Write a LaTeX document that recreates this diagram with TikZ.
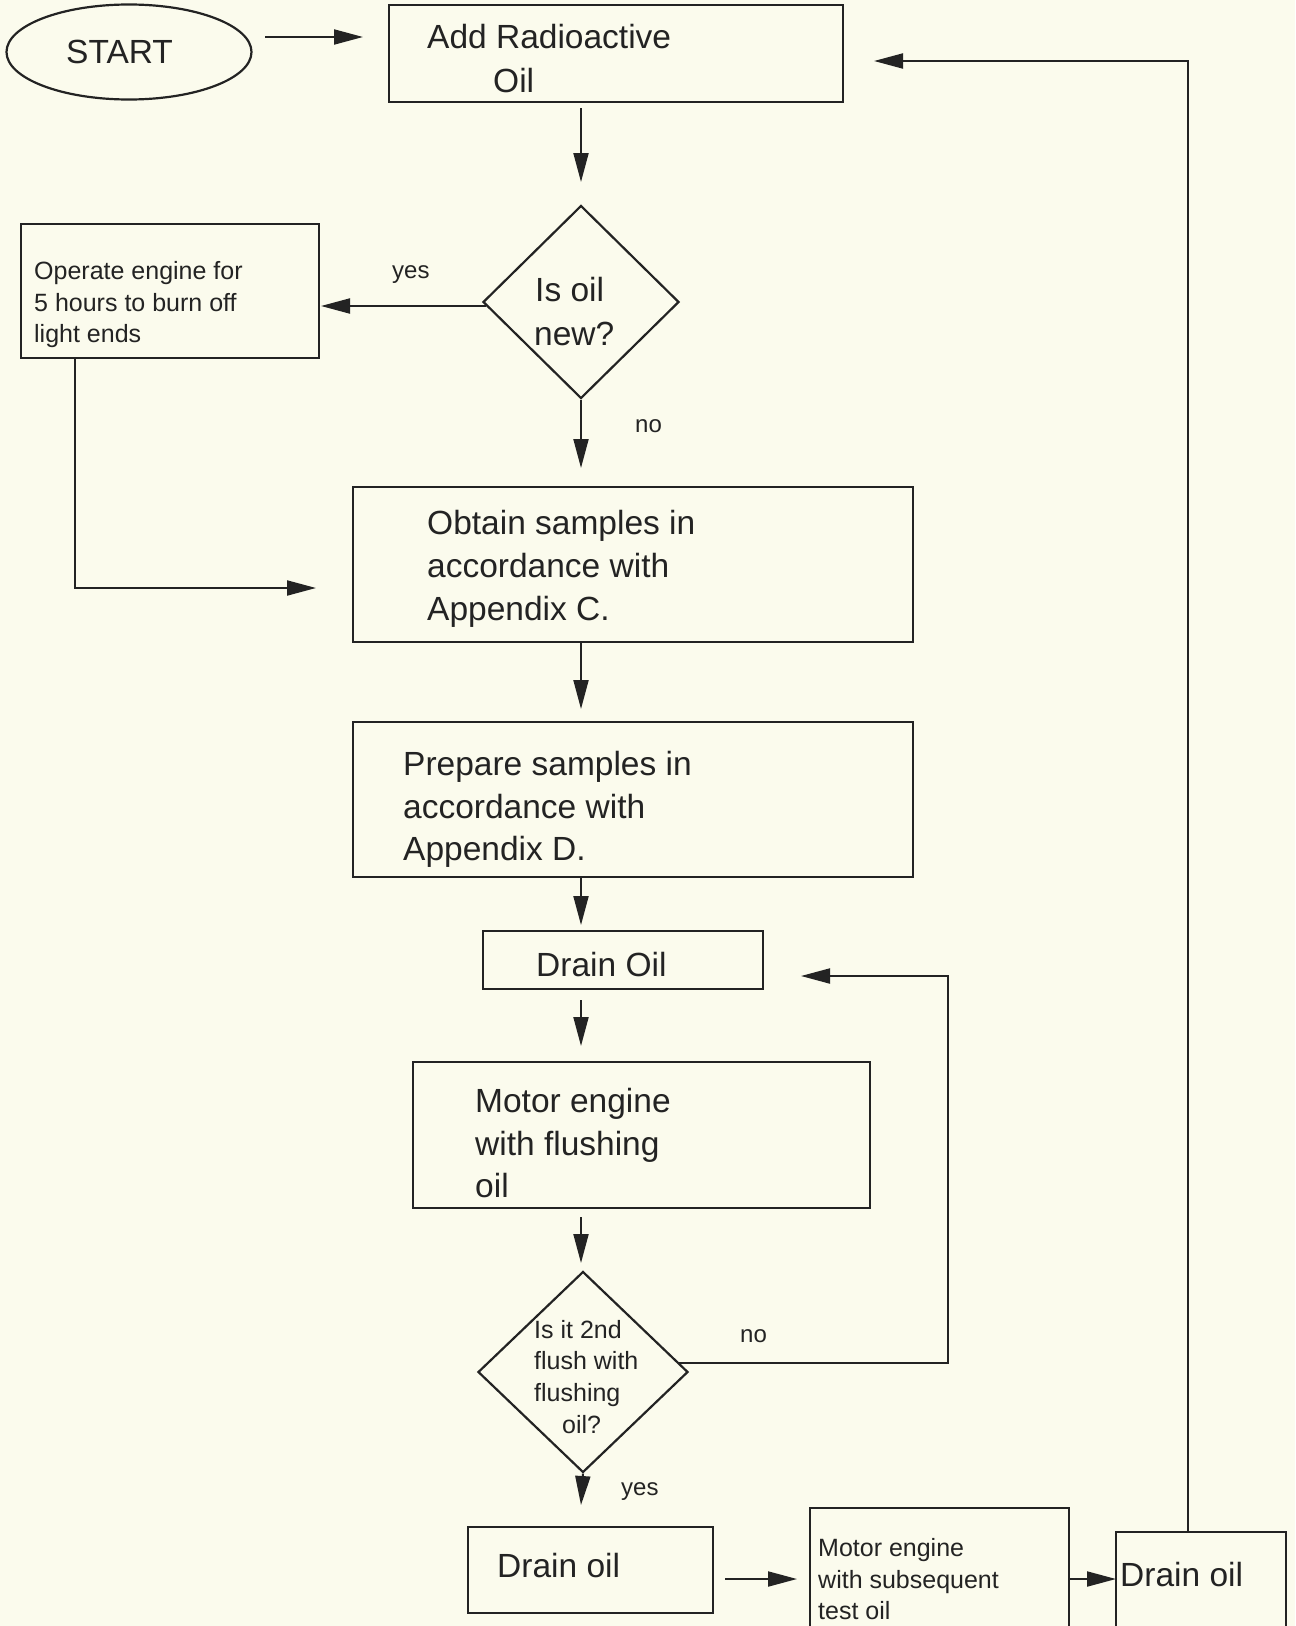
\documentclass[tikz,border=0pt]{standalone}
\usepackage{fontspec}
\setmainfont{Liberation Sans}
\usetikzlibrary{shapes.geometric,arrows.meta}
\definecolor{paper}{RGB}{251,251,237}
\definecolor{ink}{RGB}{35,35,35}
\newcommand\bigtxt{\fontsize{33.5bp}{43bp}\selectfont}
\newcommand\smalltxt{\fontsize{25bp}{31.5bp}\selectfont}
\newcommand\labtxt{\fontsize{24bp}{30bp}\selectfont}
\tikzset{
  box/.style={draw=ink, line width=2.2bp, rectangle, inner sep=0pt},
  dia/.style={draw=ink, line width=2.2bp, diamond, inner sep=0pt},
  big/.style={anchor=base west, inner sep=0pt, text=ink, font=\bigtxt},
  small/.style={anchor=base west, inner sep=0pt, text=ink, font=\smalltxt},
  lab/.style={anchor=base west, inner sep=0pt, text=ink, font=\labtxt},
  arr/.style={draw=ink, line width=2bp, -{Triangle[length=29bp,width=15bp]}},
  ln/.style={draw=ink, line width=2bp},
}
\begin{document}
\begin{tikzpicture}[x=1bp,y=-1bp]
\useasboundingbox (0,0) rectangle (1295,1626);
\fill[paper] (0,0) rectangle (1295,1626);
\clip (0,0) rectangle (1295,1626);

% shapes
\node[draw=ink, line width=2.2bp, ellipse, minimum width=245bp, minimum height=95bp, inner sep=0pt] (start) at (129,52) {};
\node[box, minimum width=454bp, minimum height=97bp] (add) at (616,53.5) {};
\node[dia, minimum width=196bp, minimum height=193bp] (d1) at (581,302) {};
\node[box, minimum width=298bp, minimum height=134bp] (operate) at (170,291) {};
\node[box, minimum width=560bp, minimum height=155bp] (obtain) at (633,564.5) {};
\node[box, minimum width=560bp, minimum height=155bp] (prepare) at (633,799.5) {};
\node[box, minimum width=280bp, minimum height=58bp] (drain1) at (623,960) {};
\node[box, minimum width=457bp, minimum height=146bp] (motor1) at (641.5,1135) {};
\node[dia, minimum width=210bp, minimum height=201bp] (d2) at (583,1372) {};
\node[box, minimum width=245bp, minimum height=86bp] (drain2) at (590.5,1570) {};
\node[box, minimum width=259bp, minimum height=132bp] (motor2) at (939.5,1574) {};
\node[box, minimum width=170bp, minimum height=108bp] (drain3) at (1201,1586) {};

% texts
\node[big] (tstart) at (66,64) {START};
\node[big] (tadd1) at (427,49) {Add Radioactive};
\node[big] (tadd2) at (493,92) {Oil};
\node[big] (td1a) at (535,301) {Is oil};
\node[big] (td1b) at (534,345) {new?};
\node[lab] (yes1) at (392,278) {yes};
\node[small] (top1) at (34,279) {Operate engine for};
\node[small] (top2) at (34,311) {5 hours to burn off};
\node[small] (top3) at (34,342) {light ends};
\node[lab] (no1) at (635,432) {no};
\node[big] (tob1) at (427,534) {Obtain samples in};
\node[big] (tob2) at (427,577) {accordance with};
\node[big] (tob3) at (427,620) {Appendix C.};
\node[big] (tpr1) at (403,775) {Prepare samples in};
\node[big] (tpr2) at (403,818) {accordance with};
\node[big] (tpr3) at (403,860) {Appendix D.};
\node[big] (tdr1) at (536,976) {Drain Oil};
\node[big] (tmo1) at (475,1112) {Motor engine};
\node[big] (tmo2) at (475,1155) {with flushing};
\node[big] (tmo3) at (475,1197) {oil};
\node[small] (td2a) at (534,1338) {Is it 2nd};
\node[small] (td2b) at (534,1369) {flush with};
\node[small] (td2c) at (534,1401) {flushing};
\node[small] (td2d) at (562,1433) {oil?};
\node[lab] (no2) at (740,1342) {no};
\node[lab] (yes2) at (621,1495) {yes};
\node[big] (tdr2) at (497,1577) {Drain oil};
\node[small] (tmo4) at (818,1556) {Motor engine};
\node[small] (tmo5) at (818,1588) {with subsequent};
\node[small] (tmo6) at (818,1619) {test oil};
\node[big] (tdr3) at (1120,1586) {Drain oil};

% connector end points
\coordinate (a1s) at (265,37);   \coordinate (a1e) at (363,37);
\coordinate (a2s) at (581,108);  \coordinate (a2e) at (581,182);
\coordinate (a3s) at (486,306);  \coordinate (a3e) at (321,306);
\coordinate (a4s) at (75,358);   \coordinate (a4m) at (75,588);  \coordinate (a4e) at (316,588);
\coordinate (a5e) at (581,468);
\coordinate (a6s) at (581,642);  \coordinate (a6e) at (581,709);
\coordinate (a7s) at (581,877);  \coordinate (a7e) at (581,925);
\coordinate (a8s) at (581,1000); \coordinate (a8e) at (581,1046);
\coordinate (a9s) at (581,1217); \coordinate (a9e) at (581,1263);
\coordinate (a10s) at (679,1363); \coordinate (a10m) at (948,1363); \coordinate (a10n) at (948,976); \coordinate (a10e) at (801,976);
\coordinate (a11e) at (581,1505);
\coordinate (a12s) at (725,1579); \coordinate (a12e) at (797,1579);
\coordinate (a13e) at (1116,1579);
\coordinate (a14s) at (1188,1532); \coordinate (a14m) at (1188,61); \coordinate (a14e) at (874,61);

% connectors
\draw[arr] (a1s) -- (a1e);
\draw[arr] (a2s) -- (a2e);
\draw[arr] (a3s) -- (a3e);
\draw[arr] (a4s) -- (a4m) -- (a4e);
\draw[arr] (d1.south) -- (a5e);
\draw[arr] (a6s) -- (a6e);
\draw[arr] (a7s) -- (a7e);
\draw[arr] (a8s) -- (a8e);
\draw[arr] (a9s) -- (a9e);
\draw[arr] (a10s) -- (a10m) -- (a10n) -- (a10e);
\draw[arr] (d2.south) -- (a11e);
\draw[arr] (a12s) -- (a12e);
\draw[arr] (motor2.east |- a13e) -- (a13e);
\draw[arr] (a14s) -- (a14m) -- (a14e);
\end{tikzpicture}
\end{document}
